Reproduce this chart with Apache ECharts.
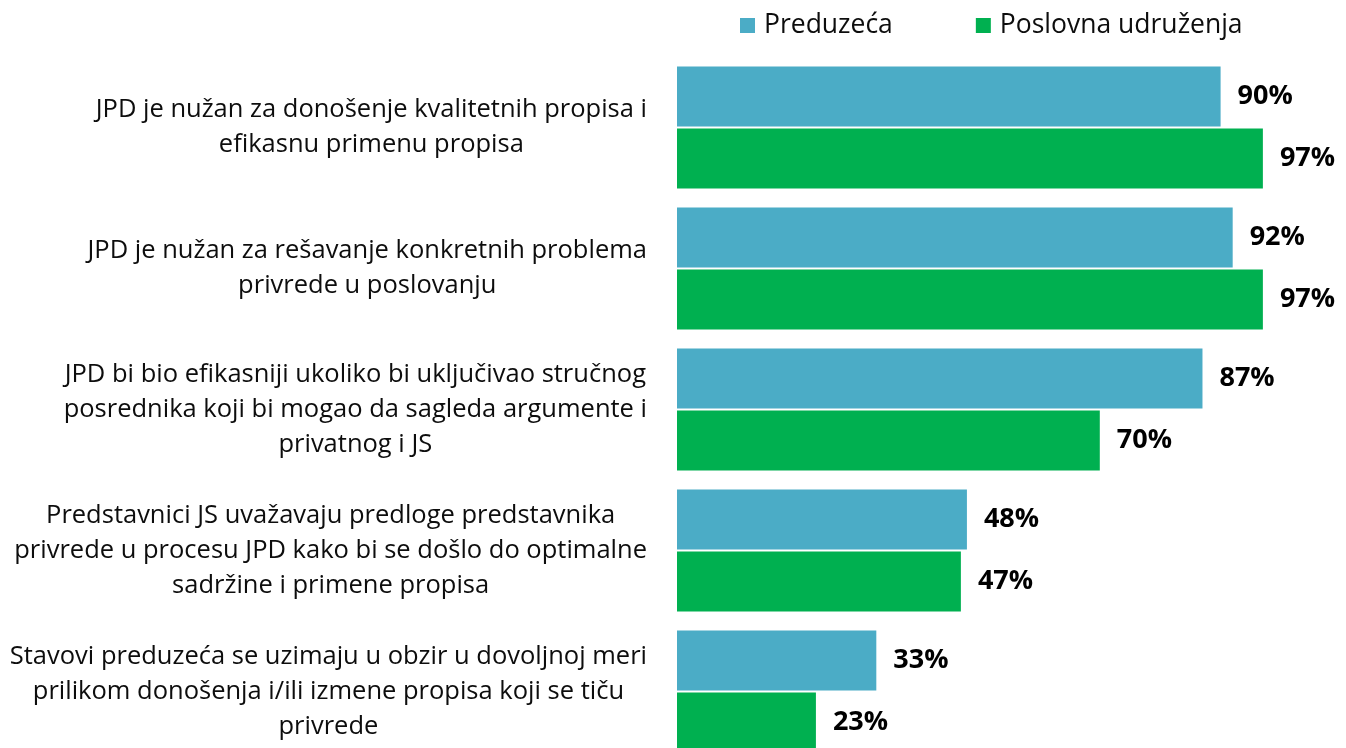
<!DOCTYPE html>
<html lang="sr">
<head>
    <meta charset="utf-8">
    <title>JPD</title>
    <script src="https://cdn.jsdelivr.net/npm/echarts@6/dist/echarts.min.js"></script>
</head>
<body style="margin:0;overflow:hidden">
    <!-- taller than the window on purpose: the last bar is cut off at the bottom edge -->
    <div id="main" style="width:1346px;height:770px;"></div>
    <script type="text/javascript">
        // categories, top to bottom
        var categories = [
            'JPD je nužan za donošenje kvalitetnih propisa i\nefikasnu primenu propisa',
            'JPD je nužan za rešavanje konkretnih problema\nprivrede u poslovanju',
            'JPD bi bio efikasniji ukoliko bi uključivao stručnog\nposrednika koji bi mogao da sagleda argumente i\nprivatnog i JS',
            'Predstavnici JS uvažavaju predloge predstavnika\nprivrede u procesu JPD kako bi se došlo do optimalne\nsadržine i primene propisa',
            'Stavovi preduzeća se uzimaju u obzir u dovoljnoj meri\nprilikom donošenja i/ili izmene propisa koji se tiču\nprivrede'
        ];
        var preduzeca = [90, 92, 87, 48, 33];
        var udruzenja = [97, 97, 70, 47, 23];

        var font = '"Open Sans", Lato, sans-serif';
        var myChart = echarts.init(document.getElementById('main'));

        var label = {
            show: true,
            position: 'right',
            distance: 17,
            formatter: '{c}%',
            color: '#000',
            fontFamily: font,
            fontWeight: 'bold',
            fontSize: 27
        };

        var option = {
            animation: false,
            legend: {
                left: 735,
                top: 7,
                icon: 'rect',
                itemWidth: 15,
                itemHeight: 15,
                itemGap: 83,
                textStyle: { fontFamily: font, fontSize: 26.5, color: '#0d0d0d', padding: [0, 0, 0, 4] },
                data: ['Preduzeća', 'Poslovna udruženja']
            },
            grid: { left: 677, top: 57, width: 604, height: 705 },
            xAxis: {
                type: 'value',
                min: 0,
                max: 100,
                show: false
            },
            yAxis: {
                type: 'category',
                inverse: true,
                data: categories,
                axisLine: { show: false },
                axisTick: { show: false },
                axisLabel: {
                    margin: 30,
                    formatter: function (v) {
                        return v.split('\n').map(function (l) { return '{c|' + l + '}'; }).join('\n');
                    },
                    rich: {
                        c: { align: 'center', fontFamily: font, fontSize: 25.5, color: '#0d0d0d', lineHeight: 35 }
                    }
                }
            },
            series: [{
                name: 'Preduzeća',
                type: 'bar',
                data: preduzeca,
                barWidth: 60,
                barGap: '3%',
                itemStyle: { color: '#4BACC6' },
                label: label
            }, {
                name: 'Poslovna udruženja',
                type: 'bar',
                data: udruzenja,
                barWidth: 60,
                itemStyle: { color: '#00B050' },
                label: label
            }]
        };

        myChart.setOption(option);
    </script>
</body>
</html>
